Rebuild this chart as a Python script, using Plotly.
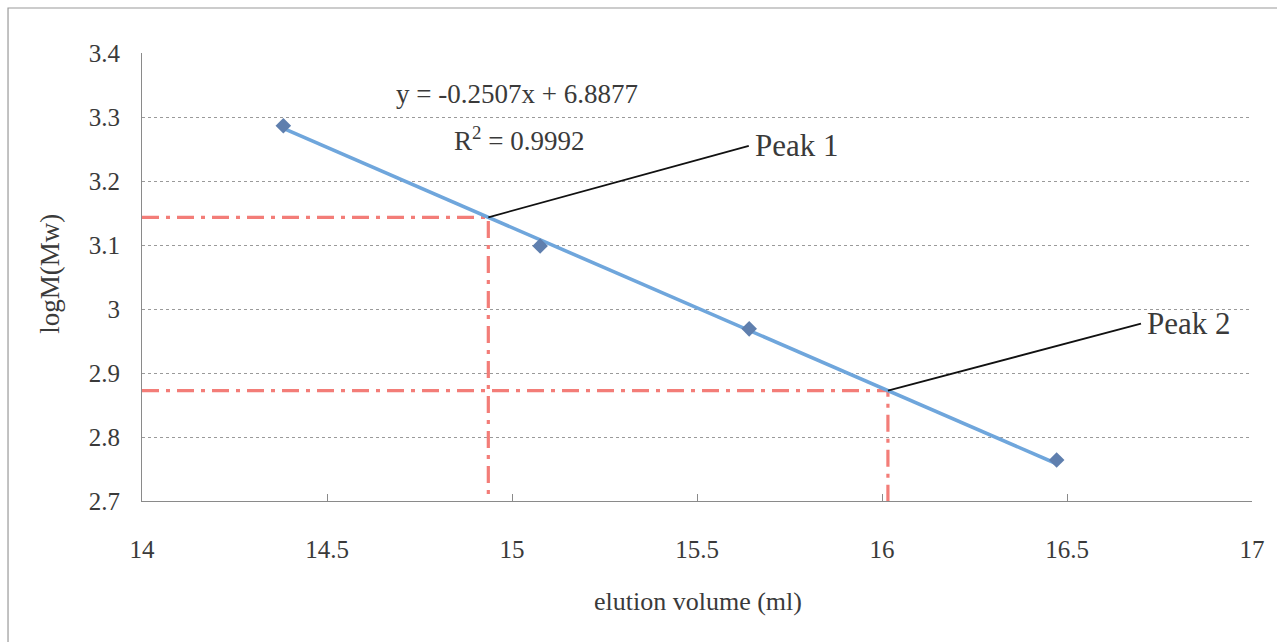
import plotly.graph_objects as go

# ---- data ----
elution_ml = [14.382, 15.076, 15.641, 16.472]
log_mw = [3.2864, 3.0984, 2.969, 2.764]
slope = -0.2507
intercept = 6.8877
r_squared = 0.9992
peak_names = ["Peak 1", "Peak 2"]
peak_x = [14.936, 16.016]
peak_label_x = [15.64, 16.70]
peak_label_y = [3.255, 2.977]
x_ticks = [14, 14.5, 15, 15.5, 16, 16.5, 17]
y_ticks = [2.7, 2.8, 2.9, 3.0, 3.1, 3.2, 3.3, 3.4]
y_tick_text = ["2.7", "2.8", "2.9", "3", "3.1", "3.2", "3.3", "3.4"]

FONT = "'Times New Roman', 'Liberation Serif', serif"
TXT = "#3a3a3a"

fit = lambda v: slope * v + intercept
x_min, x_max = 14, 17
y_min, y_max = 2.7, 3.4

fig = go.Figure()

# red dash-dot guide lines
red = "rgb(243,125,120)"
for px in peak_x:
    py = fit(px)
    fig.add_trace(go.Scatter(x=[x_min, px, px], y=[py, py, y_min], mode="lines",
                             line=dict(color=red, width=3.2, dash="17px,7px,4px,7px"),
                             hoverinfo="skip", showlegend=False))

# trend line
fig.add_trace(go.Scatter(x=[elution_ml[0], elution_ml[-1]],
                         y=[fit(elution_ml[0]), fit(elution_ml[-1])],
                         mode="lines", line=dict(color="#6fa6dc", width=3.6),
                         showlegend=False))

# data points
fig.add_trace(go.Scatter(x=elution_ml, y=log_mw, mode="markers",
                         marker=dict(symbol="diamond", size=12, color="#5f7fae"),
                         showlegend=False))

# leader lines to peak labels
for px, lx, ly in zip(peak_x, peak_label_x, peak_label_y):
    fig.add_trace(go.Scatter(x=[px, lx], y=[fit(px), ly], mode="lines",
                             line=dict(color="#111111", width=1.8),
                             hoverinfo="skip", showlegend=False))

annotations = []
for name, lx, ly in zip(peak_names, peak_label_x, peak_label_y):
    annotations.append(dict(x=lx, y=ly, xref="x", yref="y", text=name, showarrow=False,
                            xanchor="left", yanchor="middle", xshift=4,
                            font=dict(family=FONT, size=31, color=TXT)))

annotations.append(dict(x=0.338, y=0.908, xref="paper", yref="paper",
                        text=f"y = {slope:.4f}x + {intercept:.4f}", showarrow=False,
                        xanchor="center", yanchor="middle",
                        font=dict(family=FONT, size=27, color=TXT)))
annotations.append(dict(x=0.34, y=0.809, xref="paper", yref="paper",
                        text=f"R<sup>2</sup> = {r_squared:.4f}", showarrow=False,
                        xanchor="center", yanchor="middle",
                        font=dict(family=FONT, size=27, color=TXT)))
# axis titles
annotations.append(dict(x=0.5009, y=-0.2254, xref="paper", yref="paper",
                        text="elution volume (ml)", showarrow=False,
                        xanchor="center", yanchor="middle",
                        font=dict(family=FONT, size=26, color=TXT)))
annotations.append(dict(x=-0.083, y=0.5067, xref="paper", yref="paper",
                        text="logM(Mw)", showarrow=False, textangle=-90,
                        xanchor="center", yanchor="middle",
                        font=dict(family=FONT, size=27, color=TXT)))

fig.update_layout(
    width=1277, height=642,
    margin=dict(l=142, r=25, t=53, b=141),
    paper_bgcolor="white", plot_bgcolor="white",
    font=dict(family=FONT, color=TXT),
    annotations=annotations,
    shapes=[dict(type="rect", xref="paper", yref="paper",
                 x0=-0.1207, y0=-0.35, x1=1.05, y1=1.1004,
                 line=dict(color="#9a9a9a", width=1.2), layer="below")],
)

fig.update_xaxes(range=[x_min, x_max], tickvals=x_ticks, ticktext=[f"{v:g}" for v in x_ticks],
                 showgrid=False, zeroline=False, showline=True, linecolor="#8a8a8a", linewidth=1,
                 ticks="inside", ticklen=7, tickcolor="#8a8a8a",
                 tickfont=dict(family=FONT, size=25, color=TXT), ticklabelstandoff=26)
fig.update_yaxes(range=[y_min, y_max], tickvals=y_ticks, ticktext=y_tick_text,
                 showgrid=True, gridcolor="#9a9a9a", griddash="3px,3px", gridwidth=1,
                 zeroline=False, showline=True, linecolor="#8a8a8a", linewidth=1,
                 ticks="", tickfont=dict(family=FONT, size=25, color=TXT), ticklabelstandoff=16)

fig.write_html("out.html")
